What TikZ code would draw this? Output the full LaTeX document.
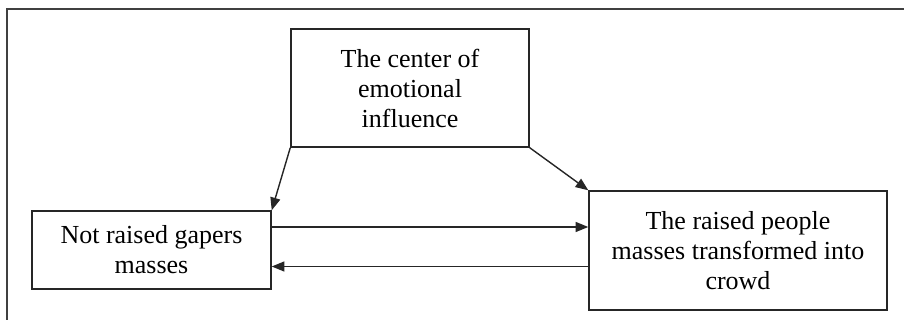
\documentclass[tikz,border=0pt]{standalone}
\usepackage{fontspec}
\setmainfont{Liberation Serif}
\usetikzlibrary{arrows.meta}
\begin{document}
\begin{tikzpicture}[x=0.75pt,y=-0.75pt,
  box/.style={draw=black!85,line width=1.1pt,fill=white,align=center,inner sep=0pt,
    font=\fontsize{19.5}{22.5}\selectfont},
  conn/.style={draw=black!85,line width=1.05pt,-{Triangle[length=9.5pt,width=7.5pt]}}]
\useasboundingbox (0,0) rectangle (904,320);
\clip (0,0) rectangle (904,320);
\fill[white] (0,0) rectangle (904,320);
\draw[black!75,line width=1.6pt] (7,9) rectangle (920,340);
\node[box,minimum width=238*0.75pt,minimum height=118*0.75pt] (c) at (410,88)
  {The center of\\emotional\\influence};
\node[box,minimum width=239*0.75pt,minimum height=78*0.75pt] (l) at (151.5,250)
  {Not raised gapers\\masses};
\node[box,minimum width=298*0.75pt,minimum height=119*0.75pt] (r) at (738,250.5)
  {The raised people\\masses transformed into\\crowd};
\draw[conn] (c.south west) -- (l.north east);
\draw[conn] (c.south east) -- (r.north west);
\draw[conn] ([yshift=17.25pt]l.east) -- ([yshift=17.25pt]l.east -| r.west);
\draw[conn] ([yshift=-12pt]r.west) -- ([yshift=-12pt]r.west -| l.east);
\end{tikzpicture}
\end{document}
